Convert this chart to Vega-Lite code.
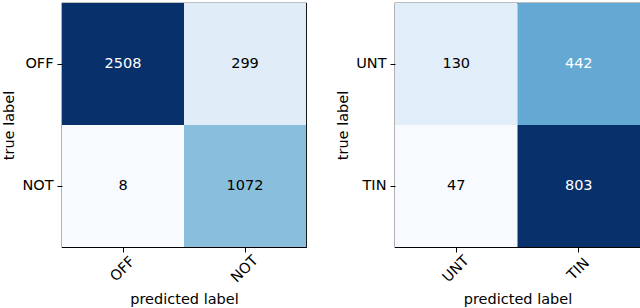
{
  "$schema": "https://vega.github.io/schema/vega-lite/v6.json",
  "background": "white",
  "padding": {"left": 1, "top": 2, "right": 1, "bottom": 0},
  "config": {
    "font": "DejaVu Sans",
    "view": {"stroke": "black", "strokeWidth": 1.2},
    "group": {"strokeForeground": true},
    "axis": {
      "grid": false,
      "domain": false,
      "tickColor": "black",
      "tickSize": 5,
      "tickWidth": 1,
      "labelFont": "DejaVu Sans",
      "labelFontSize": 14.5,
      "labelColor": "black",
      "titleFont": "DejaVu Sans",
      "titleFontSize": 14.5,
      "titleFontWeight": "normal",
      "titleColor": "black"
    },
    "concat": {"spacing": 28}
  },
  "datasets": {
    "left": [
      {"true": "OFF", "pred": "OFF", "n": 2508},
      {"true": "OFF", "pred": "NOT", "n": 299},
      {"true": "NOT", "pred": "OFF", "n": 8},
      {"true": "NOT", "pred": "NOT", "n": 1072}
    ],
    "right": [
      {"true": "UNT", "pred": "UNT", "n": 130},
      {"true": "UNT", "pred": "TIN", "n": 442},
      {"true": "TIN", "pred": "UNT", "n": 47},
      {"true": "TIN", "pred": "TIN", "n": 803}
    ]
  },
  "hconcat": [
    {
      "width": 244,
      "height": 244,
      "data": {"name": "left"},
      "encoding": {
        "x": {"field": "pred", "type": "nominal", "sort": ["OFF", "NOT"], "title": "predicted label",
              "scale": {"paddingInner": 0, "paddingOuter": 0},
              "axis": {"labelAngle": -45, "labelAlign": "center", "labelBaseline": "middle", "labelPadding": 17, "titlePadding": 8}},
        "y": {"field": "true", "type": "nominal", "sort": ["OFF", "NOT"], "title": "true label",
              "scale": {"paddingInner": 0, "paddingOuter": 0},
              "axis": {"labelAngle": 0, "labelPadding": 4, "titlePadding": 5}}
      },
      "layer": [
        {"mark": {"type": "rect"},
         "encoding": {"color": {"field": "n", "type": "quantitative", "legend": null,
           "scale": {"type": "linear", "interpolate": "rgb",
             "domain": [8, 320.5, 633, 945.5, 1258, 1570.5, 1883, 2195.5, 2508],
             "range": ["#f7fbff", "#deebf7", "#c6dbef", "#9ecae1", "#6baed6", "#4292c6", "#2171b5", "#08519c", "#08306b"]}}}},
        {"mark": {"type": "text", "font": "DejaVu Sans", "fontSize": 14.5},
         "encoding": {"text": {"field": "n", "type": "quantitative"},
           "color": {"condition": {"test": "datum.n > 1254", "value": "white"}, "value": "black"}}}
      ],
      "resolve": {"scale": {"color": "independent"}}
    },
    {
      "width": 245,
      "height": 244,
      "data": {"name": "right"},
      "encoding": {
        "x": {"field": "pred", "type": "nominal", "sort": ["UNT", "TIN"], "title": "predicted label",
              "scale": {"paddingInner": 0, "paddingOuter": 0},
              "axis": {"labelAngle": -45, "labelAlign": "center", "labelBaseline": "middle", "labelPadding": 17, "titlePadding": 8}},
        "y": {"field": "true", "type": "nominal", "sort": ["UNT", "TIN"], "title": "true label",
              "scale": {"paddingInner": 0, "paddingOuter": 0},
              "axis": {"labelAngle": 0, "labelPadding": 4, "titlePadding": 5}}
      },
      "layer": [
        {"mark": {"type": "rect"},
         "encoding": {"color": {"field": "n", "type": "quantitative", "legend": null,
           "scale": {"type": "linear", "interpolate": "rgb",
             "domain": [47, 141.5, 236, 330.5, 425, 519.5, 614, 708.5, 803],
             "range": ["#f7fbff", "#deebf7", "#c6dbef", "#9ecae1", "#6baed6", "#4292c6", "#2171b5", "#08519c", "#08306b"]}}}},
        {"mark": {"type": "text", "font": "DejaVu Sans", "fontSize": 14.5},
         "encoding": {"text": {"field": "n", "type": "quantitative"},
           "color": {"condition": {"test": "datum.n > 401.5", "value": "white"}, "value": "black"}}}
      ],
      "resolve": {"scale": {"color": "independent"}}
    }
  ],
  "resolve": {"scale": {"color": "independent", "x": "independent", "y": "independent"}}
}
